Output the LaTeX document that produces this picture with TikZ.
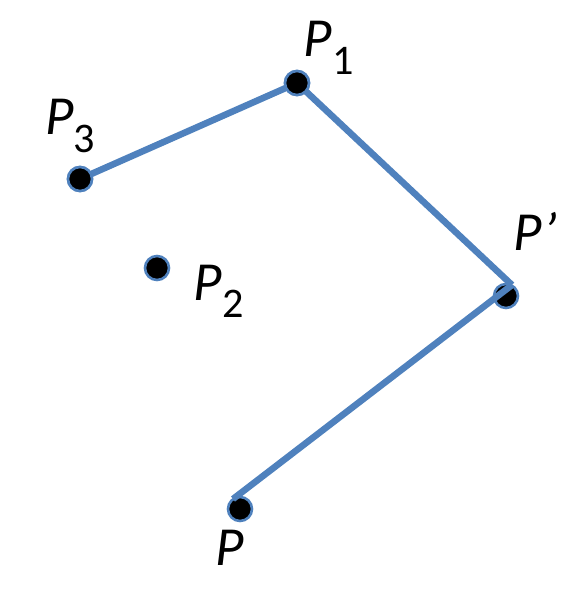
\documentclass[tikz,border=0pt]{standalone}
\usepackage{fontspec}
\setmainfont{Carlito}
\usepackage{tikz}

\definecolor{edgeblue}{RGB}{79,129,189}
\tikzset{
  pt/.style={circle,inner sep=0pt,draw=edgeblue,fill=black,line width=2.2pt,minimum size=0.72cm},
  seg/.style={edgeblue,line width=5.6pt},
  lbl/.style={anchor=base west,inner sep=0pt,font=\fontsize{47}{50}\selectfont\itshape}
}
\newcommand{\sub}[1]{\raisebox{-0.32em}{\fontsize{36}{40}\selectfont\upshape #1}}

\begin{document}
\begin{tikzpicture}
      \useasboundingbox (0,0) rectangle (17.46,-17.82);

      \draw (15.18,-8.88) node [pt] (pp) {};
      \draw (7.2,-15.27) node [pt] (p) {};
      \coordinate (bend) at (15.36,-8.55);
      \coordinate (pend) at (6.99,-14.97);

      \draw (2.4,-5.37) node [pt] (p3) {};
      \draw (8.91,-2.49) node [pt] (p1) {};
      \draw (4.71,-8.04) node [pt] (p2) {};

      \draw [seg] (p3.center) -- (p1.center);
      \draw [seg] (p1.center) -- (bend);
      \draw [seg] (bend) -- (pend);

      \draw (p3) node [pt] {};
      \draw (p1) node [pt] {};

      \node [lbl] (l1) at (9.1,-1.71) {P\sub{1}};
      \node [lbl] (l3) at (1.35,-4.05) {P\sub{3}};
      \node [lbl] (l2) at (5.8,-9.0) {P\sub{2}};
      \node [lbl] (lpp) at (15.4,-7.5) {P’};
      \node [lbl] (lp) at (6.45,-16.95) {P};
\end{tikzpicture}
\end{document}
